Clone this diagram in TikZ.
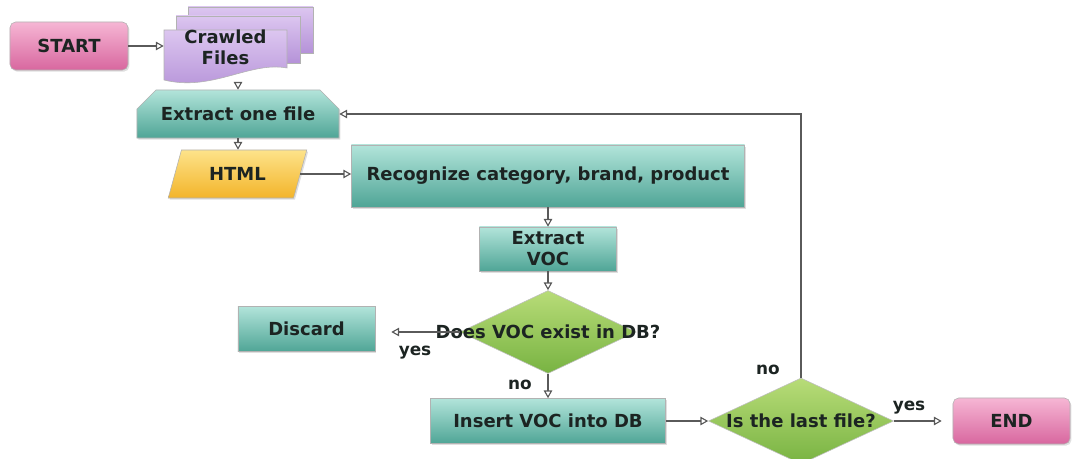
\documentclass[tikz,border=0pt]{standalone}
\usepackage{fontspec}
\setmainfont{DejaVu Sans}
\usetikzlibrary{arrows.meta,shapes.geometric,shapes.misc,shadows}

\definecolor{inktext}{HTML}{1C2422}
\definecolor{lineink}{HTML}{5A5A5A}
\definecolor{pinktop}{HTML}{F6B6D4}
\definecolor{pinkbot}{HTML}{D8679F}
\definecolor{tealtop}{HTML}{B2E4DA}
\definecolor{tealbot}{HTML}{4FA596}
\definecolor{purptop}{HTML}{DCC6F0}
\definecolor{purpbot}{HTML}{B592D8}
\definecolor{goldtop}{HTML}{FDE38A}
\definecolor{goldbot}{HTML}{F3B42A}
\definecolor{leaftop}{HTML}{B8DC78}
\definecolor{leafbot}{HTML}{78B342}

\begin{document}
\begin{tikzpicture}[x=0.025cm,y=-0.025cm,
	font=\bfseries\fontsize{12.8}{15}\selectfont,
	every node/.style={text=inktext},
	arr/.style={draw=lineink,line width=0.8pt,-{Triangle[open,length=5.5pt,width=6pt]}},
	soft/.style={drop shadow={shadow xshift=1pt,shadow yshift=-1.2pt,opacity=0.25}},
	terminal/.style={rectangle,rounded corners=4pt,draw=gray!60,top color=pinktop,bottom color=pinkbot,soft,inner sep=0pt},
	process/.style={rectangle,draw=gray!60,top color=tealtop,bottom color=tealbot,soft,inner sep=0pt,align=center},
	decision/.style={diamond,draw=gray!50,top color=leaftop,bottom color=leafbot,inner sep=0pt},
	iodata/.style={trapezium,trapezium left angle=63,trapezium right angle=117,trapezium stretches=true,draw=gray!60,top color=goldtop,bottom color=goldbot,soft,inner sep=0pt},
	docs/.style={draw=gray!60,top color=purptop,bottom color=purpbot},
	answer/.style={font=\bfseries\fontsize{12}{14}\selectfont}]
	\useasboundingbox (0,0) rectangle (1078,459);

	% stacked documents
	\path[docs] (188,7) rectangle (313,53);
	\path[docs] (176,16) rectangle (300,63);
	\path[docs] (164,30) -- (287,30) -- (287,68) .. controls (250,61) and (212,92) .. (164,80) -- cycle;

	\node[terminal,minimum width=2.95cm,minimum height=1.2cm] (start) at (69,46) {START};
	\node[align=center,minimum width=3.075cm,minimum height=1.75cm,inner sep=0pt] (crawled) at (225.5,47) {Crawled\\Files};
	\node[process,chamfered rectangle,chamfered rectangle corners={north west,north east},
		chamfered rectangle xsep=0.42cm,chamfered rectangle ysep=0.3cm,
		minimum width=5.05cm,minimum height=1.2cm] (extract) at (238,114) {Extract one file};
	\node[iodata,minimum width=3.475cm,minimum height=1.2cm] (html) at (237.5,174) {HTML};
	\node[process,minimum width=9.825cm,minimum height=1.55cm] (recog) at (548,176) {Recognize category, brand, product};
	\node[process,minimum width=3.425cm,minimum height=1.1cm] (voc) at (548,249) {Extract\\VOC};
	\node[decision,minimum width=4.4cm,minimum height=2.075cm,
		label={[text=inktext]center:Does VOC exist in DB?}] (exists) at (548,332) {};
	\node[process,minimum width=3.425cm,minimum height=1.125cm] (discard) at (306.5,329) {Discard};
	\node[process,minimum width=5.875cm,minimum height=1.125cm] (insert) at (548,421) {Insert VOC into DB};
	\node[decision,minimum width=4.625cm,minimum height=2.15cm,
		label={[text=inktext]center:Is the last file?}] (last) at (801,421) {};
	\node[terminal,minimum width=2.925cm,minimum height=1.15cm] (finish) at (1011.5,421) {END};

	% connectors
	\draw[arr] (start.east) -- (start.east -| crawled.west);
	\draw[arr] (crawled.south -| extract.north) -- (extract.north);
	\draw[arr] (extract.south) -- (extract.south |- html.north);
	\draw[arr] (html.east) -- (html.east -| recog.west);
	\draw[arr] (recog.south) -- (voc.north);
	\draw[arr] (voc.south) -- (exists.north);
	\draw[arr,shorten >=0.4cm] (exists.west) -- (exists.west -| discard.east);
	\draw[arr] (exists.south) -- (insert.north);
	\draw[arr] (insert.east) -- (last.west);
	\draw[arr,shorten >=0.275cm] (last.east) -- (last.east -| finish.west);
	\draw[arr] (last.north) |- (extract.east);

	% branch labels
	\node[answer] (yesdrop) at (415,353) {yes};
	\node[answer] (noadd) at (520,385) {no};
	\node[answer] (noloop) at (768,370) {no};
	\node[answer] (yesend) at (909,408) {yes};
\end{tikzpicture}
\end{document}
